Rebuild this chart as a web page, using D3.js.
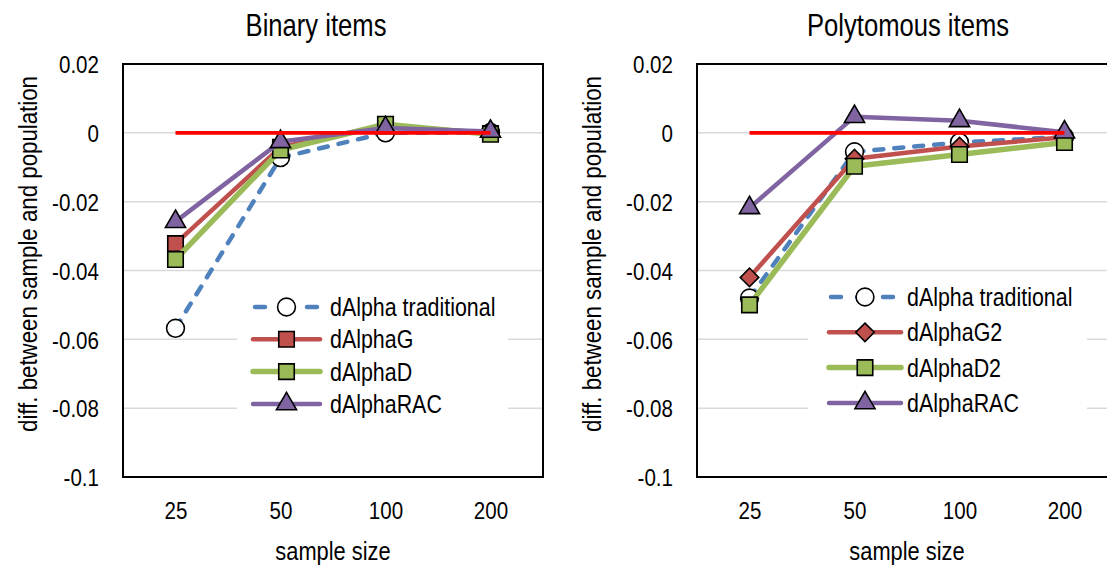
<!DOCTYPE html>
<html lang="en">
<head><meta charset="utf-8"><title>dAlpha by sample size</title>
<style>
body { margin: 0; background: #fff; }
svg text { font-family: "Liberation Sans", Arial, sans-serif; fill: #000; }
</style>
</head>
<body>
<svg width="1107" height="565"></svg>
<script src="https://d3js.org/d3.v7.min.js"></script>
<script>
// categories and ticks
var sampleSizes = ["25", "50", "100", "200"];
var yTicks = [0.02, 0, -0.02, -0.04, -0.06, -0.08, -0.1];
var yTickLabels = ["0.02", "0", "-0.02", "-0.04", "-0.06", "-0.08", "-0.1"];
var populationLine = [0, 0, 0, 0];

// Binary items
var binTraditional = [-0.0568, -0.0072, 0.0000, 0.0001];
var binG = [-0.0322, -0.0042, 0.0022, -0.0002];
var binD = [-0.0368, -0.0050, 0.0025, -0.0004];
var binRAC = [-0.0258, -0.0026, 0.0014, 0.0004];
var binNames = ["dAlpha traditional", "dAlphaG", "dAlphaD", "dAlphaRAC"];

// Polytomous items
var polyTraditional = [-0.0480, -0.0055, -0.0028, -0.0012];
var polyG2 = [-0.0420, -0.0075, -0.0040, -0.0013];
var polyD2 = [-0.0500, -0.0097, -0.0063, -0.0028];
var polyRAC = [-0.0218, 0.0047, 0.0035, 0.0002];
var polyNames = ["dAlpha traditional", "dAlphaG2", "dAlphaD2", "dAlphaRAC"];

var sx = 0.84; // the original text is a bit narrow

var svg = d3.select("svg");

// series styles: color, line width, dash, marker
var styles = [
    { color: "#4F81BD", width: 4.5, dash: "9,11", shape: "circle", fill: "#fff" },
    { color: "#C0504D", width: 4.5, dash: null, shape: "square", fill: "#C0504D" },
    { color: "#9BBB59", width: 5.5, dash: null, shape: "square", fill: "#9BBB59" },
    { color: "#8064A2", width: 4.5, dash: null, shape: "triangle", fill: "#8064A2" }
];

function symbolPath(shape) {
    if (shape == "circle") return d3.symbol(d3.symbolCircle, 250)();
    if (shape == "square") return d3.symbol(d3.symbolSquare, 240)();
    if (shape == "diamond") return d3.symbol(d3.symbolSquare, 170)();
    return d3.symbol(d3.symbolTriangle, 175)();
}

function drawMarker(g, shape, fill, x, y) {
    g.append("path")
        .attr("d", symbolPath(shape))
        .attr("transform", "translate(" + x + "," + y + ")" + (shape == "diamond" ? " rotate(45)" : ""))
        .attr("fill", fill)
        .attr("stroke", "#000")
        .attr("stroke-width", 1.6);
}

function panel(p) {
    var x = d3.scalePoint().domain(sampleSizes).range([p.left, p.right]).padding(0.5);
    var y = d3.scaleLinear().domain([-0.1, 0.02]).range([p.bottom, p.top]);
    var g = svg.append("g");

    // gridlines
    g.append("g").selectAll("line").data(yTicks.slice(1, -1)).enter().append("line")
        .attr("x1", p.left).attr("x2", p.right)
        .attr("y1", function(d) { return y(d); }).attr("y2", function(d) { return y(d); })
        .attr("stroke", "#D9D9D9").attr("stroke-width", 1.5);

    // legend background hides the gridlines behind it
    g.append("rect")
        .attr("x", p.legend.box[0]).attr("y", p.legend.box[1])
        .attr("width", p.legend.box[2]).attr("height", p.legend.box[3])
        .attr("fill", "#fff");

    // plot border
    g.append("rect")
        .attr("x", p.left).attr("y", p.top)
        .attr("width", p.right - p.left).attr("height", p.bottom - p.top)
        .attr("fill", "none").attr("stroke", "#000").attr("stroke-width", 2);

    // y axis labels
    var ya = g.append("g").attr("transform", "translate(" + p.left + ",0)")
        .call(d3.axisLeft(y).tickValues(yTicks).tickSize(0)
            .tickFormat(function(d, i) { return yTickLabels[i]; }));
    ya.select(".domain").remove();
    ya.selectAll("text")
        .attr("x", -24 / sx).attr("dy", "0.36em")
        .attr("transform", "scale(" + sx + ",1)")
        .style("font-size", "24.5px").style("font-family", null);

    // x axis labels
    var xa = g.append("g").attr("transform", "translate(0," + p.bottom + ")")
        .call(d3.axisBottom(x).tickSize(0));
    xa.select(".domain").remove();
    xa.selectAll("text")
        .attr("x", 0).attr("y", 33).attr("dy", "0.36em")
        .attr("transform", "scale(" + sx + ",1)")
        .style("font-size", "24.5px").style("font-family", null);

    // titles
    g.append("text")
        .attr("transform", "translate(" + p.titleX + ",36) scale(" + sx + ",1)")
        .attr("text-anchor", "middle").style("font-size", "30.5px").text(p.title);
    g.append("text")
        .attr("transform", "translate(" + (p.left + p.right) / 2 + ",560) scale(" + sx + ",1)")
        .attr("text-anchor", "middle").style("font-size", "26px").text("sample size");
    g.append("text")
        .attr("transform", "translate(" + p.yTitleX + ",254) rotate(-90) scale(" + sx + ",1)")
        .attr("text-anchor", "middle").style("font-size", "26.5px")
        .text("diff. between sample and population");

    var line = d3.line()
        .x(function(d, i) { return x(sampleSizes[i]); })
        .y(function(d) { return y(d); });

    p.series.forEach(function(vals, k) {
        var s = styles[k];
        var shape = (k == 1 && p.diamond) ? "diamond" : s.shape;
        g.append("path").datum(vals)
            .attr("d", line)
            .attr("fill", "none")
            .attr("stroke", s.color)
            .attr("stroke-width", s.width)
            .attr("stroke-linecap", s.dash ? "round" : "butt")
            .attr("stroke-linejoin", "round")
            .attr("stroke-dasharray", s.dash);
        vals.forEach(function(v, i) {
            drawMarker(g, shape, s.fill, x(sampleSizes[i]), y(v));
        });
    });

    // population reference line
    g.append("path").datum(populationLine)
        .attr("d", line)
        .attr("fill", "none").attr("stroke", "#FF0000").attr("stroke-width", 3.8);

    // legend
    var L = p.legend;
    p.names.forEach(function(name, k) {
        var s = styles[k];
        var shape = (k == 1 && p.diamond) ? "diamond" : s.shape;
        var ly = L.y0 + k * L.dy;
        g.append("line")
            .attr("x1", L.x0).attr("x2", L.x1).attr("y1", ly).attr("y2", ly)
            .attr("stroke", s.color).attr("stroke-width", s.width)
            .attr("stroke-linecap", "round")
            .attr("stroke-dasharray", s.dash ? "10,16" : null)
            .attr("stroke-dashoffset", s.dash ? -2 : null);
        drawMarker(g, shape, s.fill, (L.x0 + L.x1) / 2, ly);
        g.append("text")
            .attr("transform", "translate(" + L.tx + "," + ly + ") scale(" + sx + ",1)")
            .attr("dy", "0.36em").style("font-size", "25.5px").text(name);
    });
}

panel({
    left: 123, right: 543, top: 64, bottom: 477,
    title: "Binary items", titleX: 316, yTitleX: 37,
    series: [binTraditional, binG, binD, binRAC], names: binNames, diamond: false,
    legend: { box: [237, 286, 271, 134], x0: 253, x1: 320, tx: 330, y0: 307, dy: 32.3 }
});

panel({
    left: 697, right: 1117, top: 64, bottom: 477,
    title: "Polytomous items", titleX: 908, yTitleX: 601,
    series: [polyTraditional, polyG2, polyD2, polyRAC], names: polyNames, diamond: true,
    legend: { box: [808, 280, 279, 140], x0: 829, x1: 901, tx: 907, y0: 297, dy: 35.3 }
});
</script>
</body>
</html>
